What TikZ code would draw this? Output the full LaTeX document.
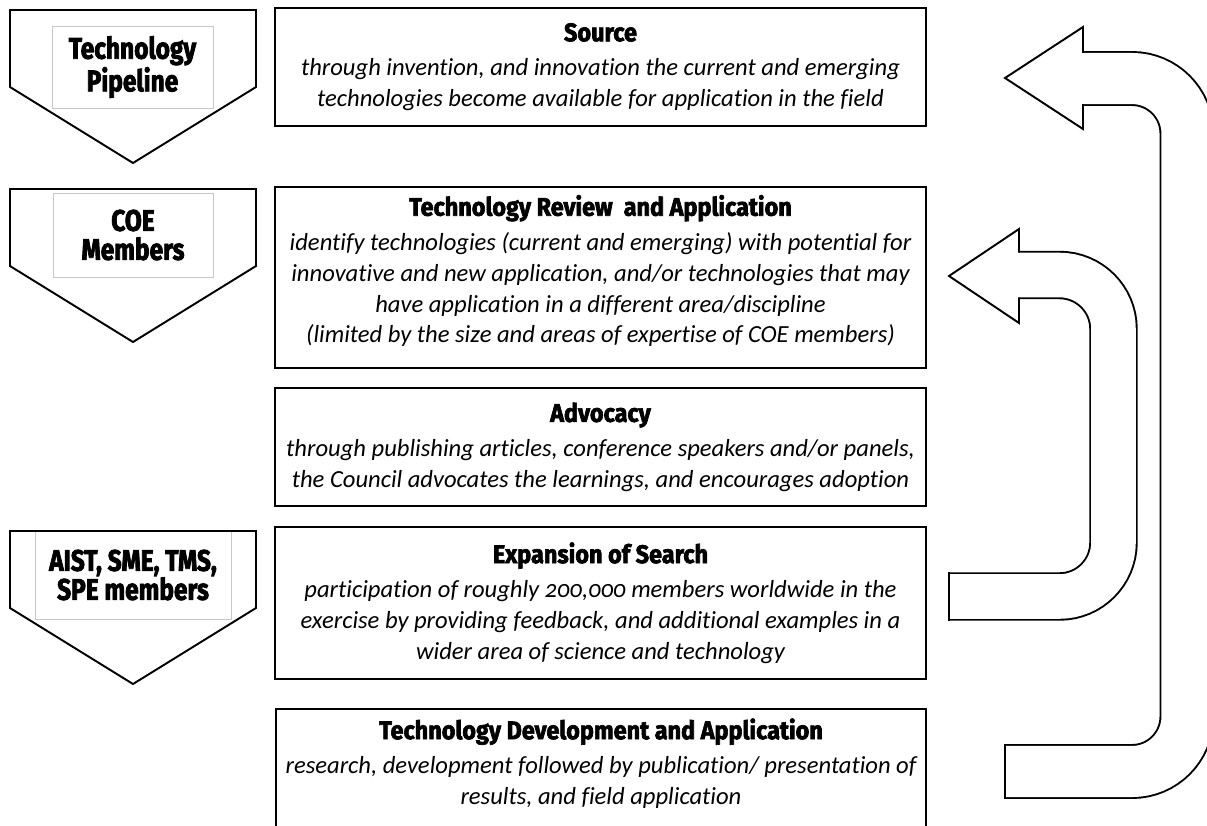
\documentclass[tikz,border=0pt]{standalone}
\usepackage{fontspec}
\setmainfont[Numbers=OldStyle, Ligatures=NoCommon]{Carlito}
\newfontfamily\headfont[FakeStretch=0.92, BoldFeatures={FakeBold=2.5}]{Fira Sans}
\newfontfamily\rolefont[FakeStretch=0.82, BoldFeatures={FakeBold=2.5}]{Fira Sans}
\newcommand{\stagehead}[1]{{\upshape\headfont\bfseries\fontsize{14.5}{18}\selectfont #1}\\[2pt]}
\newcommand{\rolearrow}[1]{%
  \draw[outline] (10,#1) -- ++(246,0) -- ++(0,77) -- ++(-123,76) -- ++(-123,-76) -- cycle}

\begin{document}
\begin{tikzpicture}[x=0.02cm, y=-0.02cm,
    outline/.style={line width=1.1pt, line cap=rect},
    stage/.style={draw, line width=1.1pt, minimum width=13.02cm, align=center,
      font=\itshape\fontsize{14}{17.6}\selectfont},
    rolebox/.style={draw=black!22, line width=0.4pt, align=center,
      font=\rolefont\bfseries\fontsize{17}{16.5}\selectfont},
    returnband/.style={draw, line width=1.1pt, double, rounded corners=1.1cm},
    arrowhead/.style={outline, line join=miter}]
  \clip (0,0) rectangle (1207,825);

  \node[rolebox, minimum width=3.22cm, minimum height=1.64cm] (pipeline) at (132.5,67) {Technology\\Pipeline};
  \node[rolebox, minimum width=3.2cm, minimum height=1.68cm] (coe) at (133,235) {COE\\Members};
  \node[rolebox, minimum width=3.92cm, minimum height=1.76cm] (societies) at (133,575) {AIST, SME, TMS,\\SPE members};
  \rolearrow{10};
  \rolearrow{189};
  \rolearrow{531};

  \node[stage, minimum height=2.36cm] (source) at (600.5,67) {\stagehead{Source}%
    through invention, and innovation the current and emerging\\
    technologies become available for application in the field};
  \node[stage, minimum height=3.62cm, text depth=0.34cm] (review) at (600.5,277.5) {\stagehead{Technology Review\ \ and Application}%
    identify technologies (current and emerging) with potential for\\
    innovative and new application, and/or technologies that may\\
    have application in a different area/discipline\\
    (limited by the size and areas of expertise of COE members)};
  \node[stage, minimum height=2.36cm] (advocacy) at (600.5,447) {\stagehead{Advocacy}%
    through publishing articles, conference speakers and/or panels,\\
    the Council advocates the learnings, and encourages adoption};
  \node[stage, minimum height=3.04cm] (search) at (600.5,603) {\stagehead{Expansion of Search}%
    participation of roughly 200,000 members worldwide in the\\
    exercise by providing feedback, and additional examples in a\\
    wider area of science and technology};
  \node[stage, minimum height=2.44cm, text depth=0.34cm] (development) at (601,770) {\stagehead{Technology Development and Application}%
    research, development followed by publication/ presentation of\\
    results, and field application};

  \coordinate (outertail) at (1005,771.5);
  \coordinate (outerhead) at (1083,78.5);
  \draw[returnband, double distance=1.021cm] (outertail) -| (1187,78.5) -- (outerhead);
  \draw[outline] (1005,745) -- (1005,798);
  \draw[arrowhead] (1083,52) -- (1083,27) -- (1005,78) -- (1083,129) -- (1083,105);

  \coordinate (innertail) at (949,596.5);
  \coordinate (innerhead) at (1019,275);
  \draw[returnband, rounded corners=1.08cm, double distance=0.891cm] (innertail) -| (1113.5,275) -- (innerhead);
  \draw[outline] (949,573.25) -- (949,619.75);
  \draw[arrowhead] (1019,251.75) -- (1019,229) -- (949,276) -- (1019,323) -- (1019,298.25);
\end{tikzpicture}
\end{document}
